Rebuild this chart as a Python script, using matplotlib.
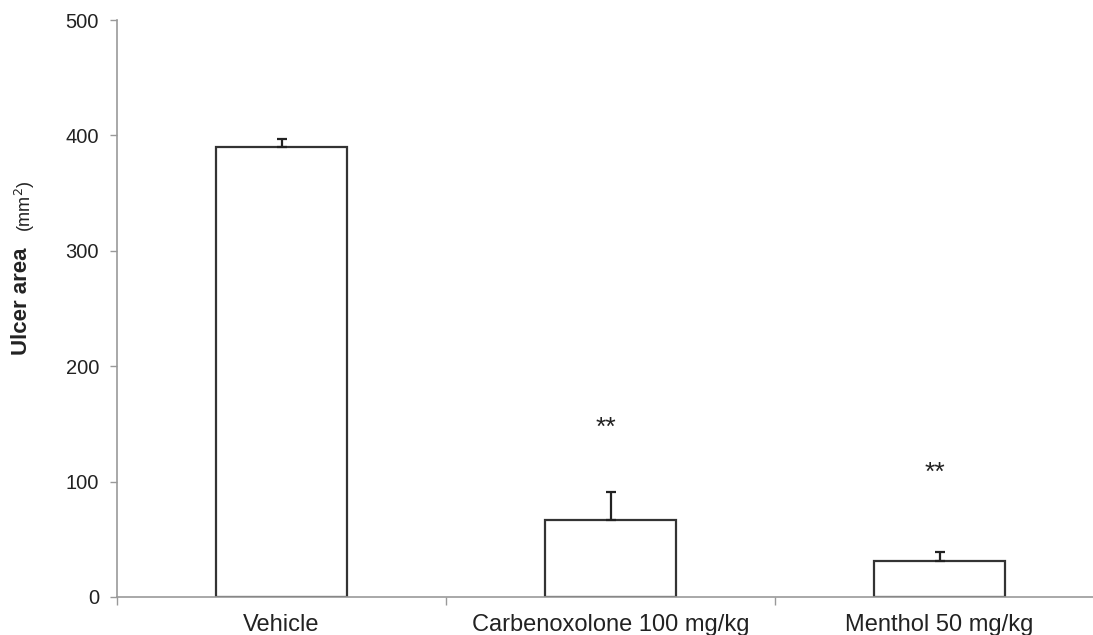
import matplotlib.pyplot as plt
import numpy as np

# Data
groups = ['Vehicle', 'Carbenoxolone 100 mg/kg', 'Menthol 50 mg/kg']
ulcer_area = [390, 67, 31]
sem = [7, 24, 8]
stars = ['', '**', '**']
star_y = [None, 147, 108]

plt.rcParams['font.family'] = ['Liberation Sans', 'DejaVu Sans']

fig = plt.figure(figsize=(10.93, 6.35), dpi=100)
ax = fig.add_axes([117 / 1093, 38 / 635, 1 - 117 / 1093, 577 / 635])

x = np.arange(len(groups))
ax.bar(x, ulcer_area, width=0.4, color='white', edgecolor='#333333', linewidth=1.6, zorder=2)
ax.errorbar(x, ulcer_area, yerr=[np.zeros(len(sem)), sem], fmt='none',
            ecolor='#222222', elinewidth=1.6, capsize=3.5, capthick=1.6, zorder=3)

for xi, s, sy in zip(x, stars, star_y):
    if s:
        ax.text(xi - 0.015, sy, s, ha='center', va='center', fontsize=19, color='#222222')

ax.set_ylim(0, 500)
ax.set_xlim(-0.5, 2.5 - 11 / 329)
ax.set_yticks([0, 100, 200, 300, 400, 500])
ax.set_xticks(x)
ax.set_xticklabels(groups, fontsize=17, color='#222222')
ax.set_xticks([-0.5, 0.5, 1.5], minor=True)
ax.tick_params(axis='x', which='major', length=0, pad=12)
ax.tick_params(axis='x', which='minor', length=6, color='#999999', width=1)
ax.tick_params(axis='y', length=5, color='#999999', width=1, labelsize=14.5,
               labelcolor='#222222', pad=8)

for side in ['top', 'right']:
    ax.spines[side].set_visible(False)
for side in ['left', 'bottom']:
    ax.spines[side].set_color('#999999')
    ax.spines[side].set_linewidth(1.2)

fig.text(22 / 1093, 1 - 301 / 635, 'Ulcer area', rotation=90, ha='center', va='center',
         fontsize=16, fontweight='bold', color='#222222')
fig.text(25 / 1093, 1 - 206 / 635, '(mm$^{2}$)', rotation=90, ha='center', va='center',
         fontsize=13, color='#222222')

fig.savefig('out.png', dpi=100)
